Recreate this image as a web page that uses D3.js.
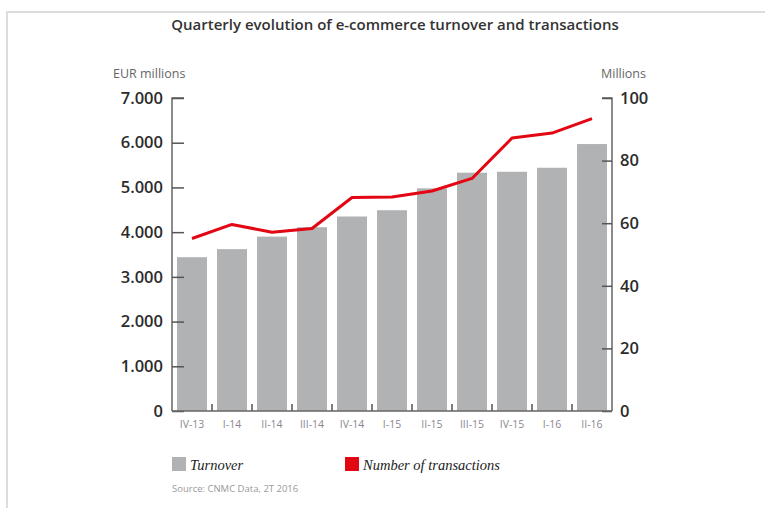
<!DOCTYPE html>
<html>
<head>
<meta charset="utf-8">
<script src="https://cdn.jsdelivr.net/npm/d3@7"></script>
<style>
  body { margin: 0; background: #fff; }
  svg { display: block; }
</style>
</head>
<body>
<svg id="chart" width="765" height="508"></svg>
<script>
const quarters = ["IV-13", "I-14", "II-14", "III-14", "IV-14", "I-15", "II-15", "III-15", "IV-15", "I-16", "II-16"];
const turnover = [3440, 3620, 3900, 4110, 4350, 4490, 4980, 5330, 5350, 5440, 5970];
const transactions = [55.1, 59.6, 57.1, 58.3, 68.2, 68.4, 70.3, 74.3, 87.2, 88.8, 93.4];
const leftTicks = [0, 1000, 2000, 3000, 4000, 5000, 6000, 7000];
const rightTicks = [0, 20, 40, 60, 80, 100];

const svg = d3.select("#chart");
const grey = "#b1b2b4", red = "#e30613", dark = "#333";
const margin = {top: 98, right: 153, bottom: 97, left: 172};
const w = 765 - margin.left - margin.right;
const h = 508 - margin.top - margin.bottom;

// frame
svg.append("rect")
    .attr("x", 7).attr("y", 12).attr("width", 770).attr("height", 520)
    .attr("fill", "none").attr("stroke", "#dcdcdc").attr("stroke-width", 2);

svg.append("text")
    .attr("x", 395).attr("y", 30)
    .attr("text-anchor", "middle")
    .attr("font-family", "Open Sans").attr("font-size", 15).attr("font-weight", 600)
    .attr("fill", dark)
    .text("Quarterly evolution of e-commerce turnover and transactions");

const g = svg.append("g").attr("transform", "translate(" + margin.left + "," + margin.top + ")");

const x = d3.scaleBand().domain(quarters).range([0, w]).paddingInner(0.25).paddingOuter(0.125);
const yL = d3.scaleLinear().domain([0, 7000]).range([h, 0]);
const yR = d3.scaleLinear().domain([0, 100]).range([h, 0]);

// bars
g.selectAll("rect.bar").data(quarters).enter().append("rect")
    .attr("class", "bar")
    .attr("x", d => x(d))
    .attr("width", x.bandwidth())
    .attr("y", (d, i) => yL(turnover[i]))
    .attr("height", (d, i) => h - yL(turnover[i]))
    .attr("fill", grey);

// line
const line = d3.line()
    .x((d, i) => x(quarters[i]) + x.bandwidth() / 2)
    .y(d => yR(d));
g.append("path").datum(transactions)
    .attr("d", line)
    .attr("fill", "none").attr("stroke", red).attr("stroke-width", 3)
    .attr("stroke-linejoin", "round");

// axes
const fmt = d => d3.format(",")(d).replace(/,/g, ".");
const axL = g.append("g")
    .call(d3.axisLeft(yL).tickValues(leftTicks).tickFormat(fmt).tickSize(-12).tickPadding(9));
const axR = g.append("g").attr("transform", "translate(" + w + ",0)")
    .call(d3.axisRight(yR).tickValues(rightTicks).tickSize(-10).tickPadding(8));
[axL, axR].forEach(a => {
  a.select(".domain").attr("stroke", "#666").attr("stroke-width", 1.5);
  a.selectAll(".tick line").attr("stroke", "#555").attr("stroke-width", 1.5);
  a.selectAll(".tick text")
      .attr("font-family", "Open Sans").attr("font-size", 16.5).attr("font-weight", 600)
      .attr("fill", "#2b2b2b");
});
axL.select(".domain").attr("d", "M12,0H0V" + h);
axR.select(".domain").attr("d", "M-10,0H0V" + h);

// x baseline, separators and labels
const xa = g.append("g").attr("transform", "translate(0," + h + ")");
xa.append("line").attr("x1", 0).attr("x2", w).attr("stroke", "#666").attr("stroke-width", 1.5);
xa.selectAll("line.sep").data(quarters.slice(1)).enter().append("line")
    .attr("class", "sep")
    .attr("x1", d => x(d) - x.step() * x.paddingInner() / 2)
    .attr("x2", d => x(d) - x.step() * x.paddingInner() / 2)
    .attr("y1", 0).attr("y2", -7)
    .attr("stroke", "#555").attr("stroke-width", 1.5);
xa.selectAll("text").data(quarters).enter().append("text")
    .attr("x", d => x(d) + x.bandwidth() / 2)
    .attr("y", 17)
    .attr("text-anchor", "middle")
    .attr("font-family", "Open Sans").attr("font-size", 10.5)
    .attr("fill", "#8a8793")
    .text(d => d);

// axis titles
svg.append("text").attr("x", 113).attr("y", 78)
    .attr("font-family", "Open Sans").attr("font-size", 12.5)
    .attr("fill", "#666").text("EUR millions");
svg.append("text").attr("x", 646).attr("y", 78).attr("text-anchor", "end")
    .attr("font-family", "Open Sans").attr("font-size", 12.5)
    .attr("fill", "#666").text("Millions");

// legend
const legend = [["Turnover", grey, 172], ["Number of transactions", red, 345]];
legend.forEach(l => {
  svg.append("rect").attr("x", l[2]).attr("y", 457).attr("width", 14).attr("height", 14).attr("fill", l[1]);
  svg.append("text").attr("x", l[2] + 18).attr("y", 470)
      .attr("font-family", "Liberation Serif").attr("font-style", "italic").attr("font-size", 14.5)
      .attr("fill", "#222").text(l[0]);
});
svg.append("text").attr("x", 172).attr("y", 492)
    .attr("font-family", "Open Sans").attr("font-size", 9.5)
    .attr("fill", "#999").text("Source: CNMC Data, 2T 2016");
</script>
</body>
</html>
